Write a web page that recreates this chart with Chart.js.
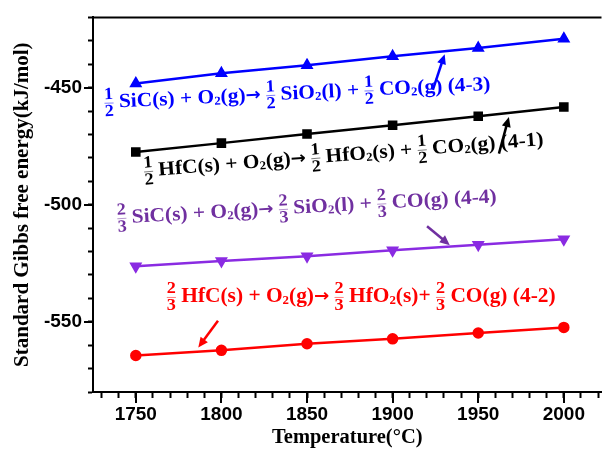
<!DOCTYPE html>
<html>
<head>
<meta charset="utf-8">
<script src="https://cdn.jsdelivr.net/npm/chart.js@4.4.1/dist/chart.umd.min.js"></script>
<style>
  html, body { margin: 0; padding: 0; background: #ffffff; }
  #wrap { width: 609px; height: 450px; position: relative; }
</style>
</head>
<body>
<div id="wrap"><canvas id="c" width="609" height="450"></canvas></div>
<script>
// ---- data ----
const temperatures = [1750, 1800, 1850, 1900, 1950, 2000];
const hfc_4_1 = [-477.5, -473.7, -469.8, -466.1, -462.2, -458.3];
const hfc_4_2 = [-564.4, -562.2, -559.4, -557.3, -554.8, -552.4];
const sic_4_3 = [-448.2, -443.9, -440.4, -436.6, -433.1, -429.1];
const sic_4_4 = [-526.3, -524.0, -522.0, -519.5, -517.1, -514.8];
const yMajorTicks = [-450, -500, -550];
const xMajorTicks = [1750, 1800, 1850, 1900, 1950, 2000];

const xTitle = 'Temperature(°C)';
const yTitle = 'Standard Gibbs free energy(kJ/mol)';

function pts(vals) { return temperatures.map((t, i) => ({ x: t, y: vals[i] })); }

// equation labels: pieces are text, fraction [num, den], subscript, or reaction arrow
const equations = [
  { color: '#0000ff', anchor: { x: 1731.7, y: -456.5 }, tilt: -2.7,
    pieces: [{ f: ['1', '2'] }, ' SiC(s) + O', { s: '2' }, '(g)', { a: '→' }, ' ', { f: ['1', '2'] }, ' SiO', { s: '2' }, '(l) + ', { f: ['1', '2'] }, ' CO', { s: '2' }, '(g) (4-3)'],
    arrow: { from: { x: 1923.5, y: -451.0 }, to: { x: 1930.4, y: -435.7 } } },
  { color: '#000000', anchor: { x: 1754.8, y: -485.8 }, tilt: -4.5,
    pieces: [{ f: ['1', '2'] }, ' HfC(s) + O', { s: '2' }, '(g)', { a: '→' }, ' ', { f: ['1', '2'] }, ' HfO', { s: '2' }, '(s) + ', { f: ['1', '2'] }, ' CO', { s: '2' }, '(g) (4-1)'],
    arrow: { from: { x: 1962.1, y: -478.2 }, to: { x: 1967.9, y: -462.5 } } },
  { color: '#7030a0', anchor: { x: 1739.2, y: -505.8 }, tilt: -3.2,
    pieces: [{ f: ['2', '3'] }, ' SiC(s) + O', { s: '2' }, '(g)', { a: '→' }, ' ', { f: ['2', '3'] }, ' SiO', { s: '2' }, '(l) + ', { f: ['2', '3'] }, ' CO(g) (4-4)'],
    arrow: { from: { x: 1920.1, y: -509.2 }, to: { x: 1933.4, y: -517.3 } } },
  { color: '#ff0000', anchor: { x: 1768.1, y: -539.4 }, tilt: 0,
    pieces: [{ f: ['2', '3'] }, ' HfC(s) + O', { s: '2' }, '(g)', { a: '→' }, ' ', { f: ['2', '3'] }, ' HfO', { s: '2' }, '(s)+ ', { f: ['2', '3'] }, ' CO(g) (4-2)'],
    arrow: { from: { x: 1798.0, y: -549.6 }, to: { x: 1786.5, y: -561.0 } } }
];

const SERIF = '"Liberation Serif", "Times New Roman", serif';
const MAIN_SIZE = 20;
const FRAC_SIZE = 17;
const STRETCH = 1.07;

const equationPlugin = {
  id: 'equations',
  afterDatasetsDraw(chart) {
    const ctx = chart.ctx, xs = chart.scales.x, ys = chart.scales.y;
    equations.forEach(eq => {
      ctx.save();
      ctx.translate(xs.getPixelForValue(eq.anchor.x), ys.getPixelForValue(eq.anchor.y));
      ctx.rotate(eq.tilt * Math.PI / 180);
      ctx.scale(STRETCH, 1);
      let x = 0;
      const y = 0;
      ctx.fillStyle = eq.color;
      ctx.strokeStyle = eq.color;
      ctx.textBaseline = 'middle';
      ctx.textAlign = 'left';
      eq.pieces.forEach(p => {
        if (typeof p === 'string') {
          ctx.font = 'bold ' + MAIN_SIZE + 'px ' + SERIF;
          ctx.fillText(p, x, y);
          x += ctx.measureText(p).width;
        } else if (p.s) {
          ctx.font = 'bold ' + Math.round(MAIN_SIZE * 0.6) + 'px ' + SERIF;
          ctx.fillText(p.s, x, y + 4);
          x += ctx.measureText(p.s).width;
        } else if (p.a) {
          ctx.font = 'bold 17px "DejaVu Sans", sans-serif';
          ctx.fillText(p.a, x, y);
          x += ctx.measureText(p.a).width;
        } else if (p.f) {
          ctx.font = 'bold ' + FRAC_SIZE + 'px ' + SERIF;
          const w = Math.max(ctx.measureText(p.f[0]).width, ctx.measureText(p.f[1]).width);
          ctx.textAlign = 'center';
          ctx.fillText(p.f[0], x + w / 2, y - 8);
          ctx.fillText(p.f[1], x + w / 2, y + 9);
          ctx.textAlign = 'left';
          ctx.lineWidth = 1;
          ctx.globalAlpha = 0.5;
          ctx.beginPath();
          ctx.moveTo(x, y + 0.5);
          ctx.lineTo(x + w, y + 0.5);
          ctx.stroke();
          ctx.globalAlpha = 1;
          x += w;
        }
      });
      ctx.restore();

      // pointer arrow
      ctx.save();
      ctx.fillStyle = eq.color;
      ctx.strokeStyle = eq.color;
      const a = eq.arrow;
      const x1 = xs.getPixelForValue(a.from.x), y1 = ys.getPixelForValue(a.from.y);
      const x2 = xs.getPixelForValue(a.to.x), y2 = ys.getPixelForValue(a.to.y);
      const ang = Math.atan2(y2 - y1, x2 - x1);
      const hl = 10, hw = 4.5;
      ctx.lineWidth = 2.5;
      ctx.beginPath();
      ctx.moveTo(x1, y1);
      ctx.lineTo(x2 - Math.cos(ang) * hl * 0.8, y2 - Math.sin(ang) * hl * 0.8);
      ctx.stroke();
      ctx.beginPath();
      ctx.moveTo(x2, y2);
      ctx.lineTo(x2 - Math.cos(ang) * hl - Math.sin(ang) * hw, y2 - Math.sin(ang) * hl + Math.cos(ang) * hw);
      ctx.lineTo(x2 - Math.cos(ang) * hl + Math.sin(ang) * hw, y2 - Math.sin(ang) * hl - Math.cos(ang) * hw);
      ctx.closePath();
      ctx.fill();
      ctx.restore();
    });
  }
};

// frame top line + longer major ticks
const framePlugin = {
  id: 'frame',
  afterDraw(chart) {
    const ctx = chart.ctx, a = chart.chartArea, xs = chart.scales.x, ys = chart.scales.y;
    ctx.save();
    ctx.strokeStyle = '#000';
    ctx.lineWidth = 2;
    ctx.beginPath();
    ctx.moveTo(a.left - 1, a.top);
    ctx.lineTo(a.right, a.top);
    ctx.stroke();
    ctx.beginPath();
    xMajorTicks.forEach(v => {
      const px = Math.round(xs.getPixelForValue(v));
      ctx.moveTo(px, a.bottom);
      ctx.lineTo(px, a.bottom + 11);
    });
    yMajorTicks.forEach(v => {
      const py = Math.round(ys.getPixelForValue(v));
      ctx.moveTo(a.left, py);
      ctx.lineTo(a.left - 9, py);
    });
    ctx.stroke();
    ctx.restore();
  }
};

const tickFont = { family: '"Liberation Sans", Arial, sans-serif', size: 19, weight: 'bold' };

new Chart(document.getElementById('c'), {
  type: 'line',
  data: {
    datasets: [
      { label: '(4-3)', data: pts(sic_4_3), borderColor: '#0000ff', backgroundColor: '#0000ff',
        pointStyle: 'triangle', pointRadius: 5, borderWidth: 2.5 },
      { label: '(4-1)', data: pts(hfc_4_1), borderColor: '#000000', backgroundColor: '#000000',
        pointStyle: 'rect', pointRadius: 5, borderWidth: 2.5 },
      { label: '(4-4)', data: pts(sic_4_4), borderColor: '#8a2be2', backgroundColor: '#8a2be2',
        pointStyle: 'triangle', pointRotation: 180, pointRadius: 5, borderWidth: 2.5 },
      { label: '(4-2)', data: pts(hfc_4_2), borderColor: '#ff0000', backgroundColor: '#ff0000',
        pointStyle: 'circle', pointRadius: 4.5, borderWidth: 2.5 }
    ]
  },
  options: {
    responsive: false,
    animation: false,
    layout: { padding: { top: 15, right: 0, left: 0, bottom: 0 } },
    plugins: { legend: { display: false }, tooltip: { enabled: false } },
    elements: { line: { tension: 0 }, point: { borderWidth: 0 } },
    scales: {
      x: {
        type: 'linear', min: 1725, max: 2022,
        border: { display: true, color: '#000', width: 2 },
        grid: { drawOnChartArea: false, drawTicks: true, tickLength: 6, tickColor: '#000', tickWidth: 2 },
        ticks: { stepSize: 10, includeBounds: false, autoSkip: false, maxRotation: 0, color: '#000', font: tickFont, padding: 5,
          callback: v => (v % 50 === 0 ? String(v) : '') },
        title: { display: true, text: xTitle, color: '#000', padding: { top: 0, bottom: 0 },
          font: { family: SERIF, size: 20.5, weight: 'bold' } },
        afterFit: s => { s.height = 58; }
      },
      y: {
        type: 'linear', min: -580, max: -420,
        border: { display: true, color: '#000', width: 2 },
        grid: { drawOnChartArea: false, drawTicks: true, tickLength: 5, tickColor: '#000', tickWidth: 2 },
        ticks: { stepSize: 10, includeBounds: false, autoSkip: false, color: '#000', font: tickFont, padding: 6,
          callback: v => (v % 50 === 0 ? String(v) : '') },
        title: { display: true, text: yTitle, color: '#000', padding: { top: 10, bottom: 0 },
          font: { family: SERIF, size: 21, weight: 'bold' } },
        afterFit: s => { s.width = 93; }
      }
    }
  },
  plugins: [equationPlugin, framePlugin]
});
</script>
</body>
</html>
